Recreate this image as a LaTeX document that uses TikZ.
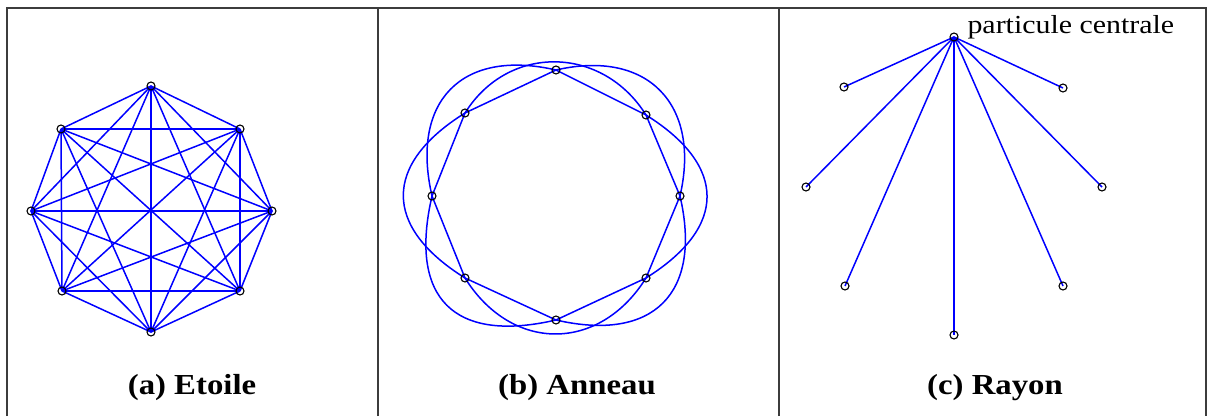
\documentclass[tikz,border=0pt]{standalone}
\usepackage{fontspec}
\setmainfont{Liberation Serif}
\usepackage{graphicx}
\definecolor{mblue}{RGB}{0,0,255}
\definecolor{framec}{RGB}{60,60,60}
\pgfdeclarelayer{fg}
\pgfsetlayers{main,fg}
\begin{document}
\begin{tikzpicture}[x=1pt,y=1pt,
  edge/.style={draw=mblue, line width=1.5pt},
  pt/.style={circle, draw=black, line width=1.1pt, inner sep=0pt, minimum size=8pt},
  frame/.style={draw=framec, line width=1.3pt},
  caption/.style={anchor=base, font=\fontsize{29}{34}\selectfont\bfseries},
  lab/.style={anchor=base west, font=\fontsize{26}{30}\selectfont}]
\useasboundingbox (0,0) rectangle (1210,416);
\fill[white] (0,0) rectangle (1210,416);
% frame
\draw[frame] (7,0) -- (7,408) -- (1206,408) -- (1206,0);
\draw[frame] (378,0) -- (378,408);
\draw[frame] (779,0) -- (779,408);
% ---------- panel (a) ----------
\begin{pgfonlayer}{fg}
\node[pt] (a1) at (151,330) {};
\node[pt] (a2) at (240,287) {};
\node[pt] (a3) at (272,205) {};
\node[pt] (a4) at (240,125) {};
\node[pt] (a5) at (151,84) {};
\node[pt] (a6) at (62,125) {};
\node[pt] (a7) at (31,205) {};
\node[pt] (a8) at (61,287) {};
\end{pgfonlayer}
\foreach \i in {1,...,7}{
  \pgfmathtruncatemacro\s{\i+1}
  \foreach \j in {\s,...,8}{
    \draw[edge] (a\i.center) -- (a\j.center);
  }
}
% ---------- panel (b) ----------
\begin{pgfonlayer}{fg}
\node[pt] (b1) at (556,346) {};
\node[pt] (b2) at (646,301) {};
\node[pt] (b3) at (680,220) {};
\node[pt] (b4) at (646,138) {};
\node[pt] (b5) at (556,96) {};
\node[pt] (b6) at (465,138) {};
\node[pt] (b7) at (432,220) {};
\node[pt] (b8) at (465,303) {};
\end{pgfonlayer}
\draw[edge] (b1.center) -- (b2.center) -- (b3.center) -- (b4.center) -- (b5.center)
  -- (b6.center) -- (b7.center) -- (b8.center) -- cycle;
\draw[edge] (b1.center) to[out=167,in=103,distance=97pt] (b7.center);
\draw[edge] (b8.center) to[out=212,in=148,distance=97pt] (b6.center);
\draw[edge] (b7.center) to[out=257,in=193,distance=105pt] (b5.center);
\draw[edge] (b6.center) to[out=302,in=238,distance=88pt] (b4.center);
\draw[edge] (b5.center) to[out=347,in=283,distance=100pt] (b3.center);
\draw[edge] (b4.center) to[out=32,in=328,distance=96pt] (b2.center);
\draw[edge] (b3.center) to[out=77,in=13,distance=94pt] (b1.center);
\draw[edge] (b2.center) to[out=122,in=58,distance=82pt] (b8.center);
% ---------- panel (c) ----------
\begin{pgfonlayer}{fg}
\node[pt] (c0) at (954,379) {};
\node[pt] (c1) at (844,329) {};
\node[pt] (c2) at (1063,328) {};
\node[pt] (c3) at (806,229) {};
\node[pt] (c4) at (1102,229) {};
\node[pt] (c5) at (845,130) {};
\node[pt] (c6) at (1063,130) {};
\node[pt] (c7) at (954,81) {};
\end{pgfonlayer}
\foreach \k in {1,...,7}{
  \draw[edge] (c0.center) -- (c\k.center);
}
\node[lab] (plab) at (964,382) {\scalebox{1.15}[1]{particule centrale}};
% captions
\node[caption] (capa) at (192,22) {\scalebox{1.13}[1]{(a) Etoile}};
\node[caption] (capb) at (577,22) {\scalebox{1.13}[1]{(b) Anneau}};
\node[caption] (capc) at (995,22) {\scalebox{1.13}[1]{(c) Rayon}};
\end{tikzpicture}
\end{document}
